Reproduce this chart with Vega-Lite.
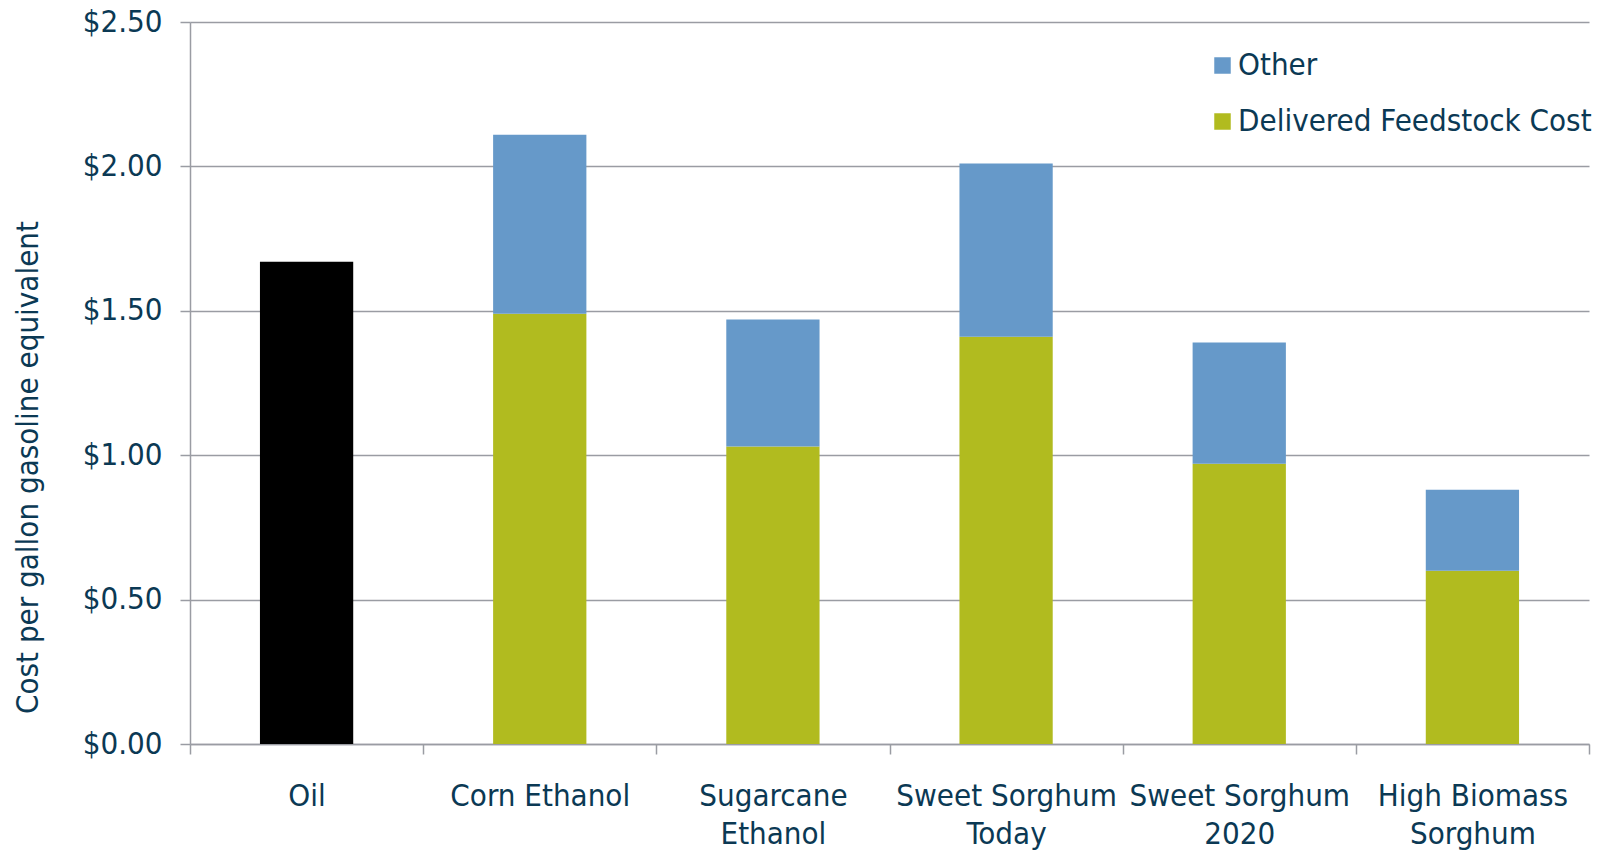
{
  "$schema": "https://vega.github.io/schema/vega-lite/v6.json",
  "autosize": {"type": "none"},
  "padding": {"left": 190, "top": 22, "right": 23, "bottom": 110},
  "width": 1399,
  "height": 722,
  "background": "white",
  "config": {
    "view": {"stroke": null},
    "font": "DejaVu Sans Condensed",
    "axis": {
      "labelFont": "DejaVu Sans Condensed",
      "titleFont": "DejaVu Sans Condensed",
      "labelColor": "#0b3954",
      "titleColor": "#0b3954",
      "domainColor": "#9a9ca3",
      "tickColor": "#9a9ca3",
      "gridColor": "#9a9ca3",
      "domainWidth": 1.5,
      "tickWidth": 1.5,
      "gridWidth": 1.5
    },
    "legend": {
      "labelFont": "DejaVu Sans Condensed",
      "labelColor": "#0b3954"
    }
  },
  "data": {
    "values": [
      {"fuel": "Oil", "series": "Oil", "cost": 1.67},
      {"fuel": "Corn Ethanol", "series": "Delivered Feedstock Cost", "cost": 1.49},
      {"fuel": "Corn Ethanol", "series": "Other", "cost": 0.62},
      {"fuel": "Sugarcane Ethanol", "series": "Delivered Feedstock Cost", "cost": 1.03},
      {"fuel": "Sugarcane Ethanol", "series": "Other", "cost": 0.44},
      {"fuel": "Sweet Sorghum Today", "series": "Delivered Feedstock Cost", "cost": 1.41},
      {"fuel": "Sweet Sorghum Today", "series": "Other", "cost": 0.60},
      {"fuel": "Sweet Sorghum 2020", "series": "Delivered Feedstock Cost", "cost": 0.97},
      {"fuel": "Sweet Sorghum 2020", "series": "Other", "cost": 0.42},
      {"fuel": "High Biomass Sorghum", "series": "Delivered Feedstock Cost", "cost": 0.60},
      {"fuel": "High Biomass Sorghum", "series": "Other", "cost": 0.28}
    ]
  },
  "mark": {"type": "bar", "width": {"band": 0.4}},
  "encoding": {
    "x": {
      "field": "fuel",
      "type": "nominal",
      "sort": null,
      "scale": {"paddingInner": 0, "paddingOuter": 0},
      "axis": {
        "title": null,
        "labelAngle": 0,
        "labelFontSize": 31,
        "labelLineHeight": 38,
        "labelPadding": 27,
        "labelLimit": 0,
        "tickSize": 10,
        "tickBand": "extent",
        "labelExpr": "datum.label == 'Oil' || datum.label == 'Corn Ethanol' ? datum.label : [substring(datum.label, 0, lastindexof(datum.label, ' ')), substring(datum.label, lastindexof(datum.label, ' ') + 1)]"
      }
    },
    "y": {
      "field": "cost",
      "type": "quantitative",
      "stack": "zero",
      "scale": {"domain": [0, 2.5], "nice": false},
      "axis": {
        "title": "Cost per gallon gasoline equivalent",
        "titleFontSize": 31,
        "titleFontWeight": "normal",
        "titleAngle": -90,
        "titleX": -162,
        "titleY": 445,
        "titleAlign": "center",
        "titleBaseline": "middle",
        "values": [0, 0.5, 1, 1.5, 2, 2.5],
        "format": "$.2f",
        "labelFontSize": 31,
        "labelPadding": 18,
        "tickSize": 10,
        "grid": true
      }
    },
    "color": {
      "field": "series",
      "type": "nominal",
      "scale": {
        "domain": ["Oil", "Delivered Feedstock Cost", "Other"],
        "range": ["#000000", "#b1bb1f", "#6699c9"]
      },
      "legend": {
        "title": null,
        "values": ["Other", "Delivered Feedstock Cost"],
        "orient": "none",
        "legendX": 1017,
        "legendY": 28,
        "padding": 0,
        "symbolType": "square",
        "symbolSize": 272,
        "symbolStrokeWidth": 0,
        "labelFontSize": 31,
        "labelOffset": 0,
        "rowPadding": 24,
        "labelLimit": 0
      }
    },
    "order": {"field": "series", "sort": "ascending"}
  }
}
